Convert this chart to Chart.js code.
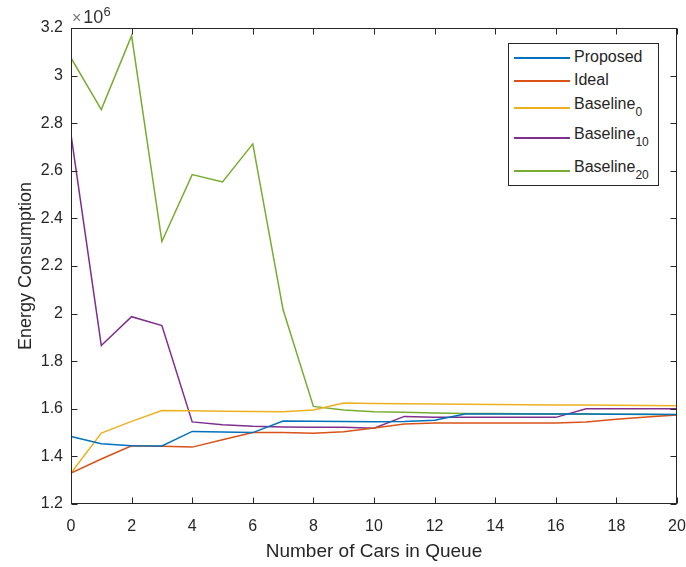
<!DOCTYPE html>
<html>
<head>
<meta charset="utf-8">
<script src="https://cdn.jsdelivr.net/npm/chart.js@4/dist/chart.umd.min.js"></script>
<style>
  body { margin: 0; background: #fff; font-family: "Liberation Sans", Arial, sans-serif; color: #262626; }
  #wrap { position: relative; width: 686px; height: 567px; }
  #expo { position: absolute; left: 72px; top: 8px; font-size: 18px; line-height: 18px; color: #333; white-space: nowrap; }
  #expo .times { font-size: 16px; color: #777; margin-right: 2px; }
  #expo sup { font-size: 13px; vertical-align: 7px; line-height: 0; }
  #legend { position: absolute; left: 508px; top: 43px; width: 151px; height: 143px; border: 1px solid #262626; background: #fff; box-sizing: border-box; }
  .row { position: absolute; left: 0; width: 100%; height: 0; }
  .row .ln { position: absolute; left: 5px; width: 56px; height: 1.5px; top: -0.75px; }
  .row .tx { position: absolute; left: 65px; top: -10px; font-size: 16px; line-height: 18px; white-space: nowrap; color: #262626; }
  .row .tx sub { font-size: 12px; vertical-align: -7px; line-height: 0; }
</style>
</head>
<body>
<div id="wrap">
  <canvas id="chart" width="686" height="567"></canvas>
  <div id="expo"><span class="times">&times;</span>10<sup>6</sup></div>
  <div id="legend"></div>
</div>
<script>
// number of cars waiting in the queue
const xValues = [0, 1, 2, 3, 4, 5, 6, 7, 8, 9, 10, 11, 12, 13, 14, 15, 16, 17, 18, 19, 20];

// energy consumption, in units of 10^6
const proposed   = [1.484, 1.453, 1.445, 1.444, 1.505, 1.503, 1.500, 1.549, 1.548, 1.547, 1.546, 1.547, 1.552, 1.578, 1.578, 1.578, 1.578, 1.578, 1.577, 1.577, 1.576];
const ideal      = [1.330, 1.389, 1.445, 1.443, 1.439, 1.470, 1.500, 1.500, 1.497, 1.504, 1.519, 1.536, 1.540, 1.540, 1.540, 1.540, 1.540, 1.545, 1.556, 1.566, 1.574];
const baseline0  = [1.330, 1.498, 1.547, 1.593, 1.592, 1.590, 1.589, 1.588, 1.595, 1.624, 1.622, 1.621, 1.620, 1.619, 1.618, 1.617, 1.616, 1.616, 1.615, 1.614, 1.613];
const baseline10 = [2.752, 1.866, 1.987, 1.950, 1.545, 1.533, 1.527, 1.524, 1.522, 1.522, 1.518, 1.568, 1.565, 1.564, 1.564, 1.564, 1.564, 1.600, 1.600, 1.600, 1.600];
const baseline20 = [3.074, 2.857, 3.168, 2.303, 2.584, 2.553, 2.713, 2.016, 1.610, 1.595, 1.588, 1.585, 1.582, 1.580, 1.580, 1.579, 1.578, 1.578, 1.577, 1.576, 1.575];

const seriesNames = ['Proposed', 'Ideal', 'Baseline', 'Baseline', 'Baseline'];
const seriesSubs  = ['', '', '0', '10', '20'];

const xTickLabels = ['0', '2', '4', '6', '8', '10', '12', '14', '16', '18', '20'];
const yTickLabels = ['1.2', '1.4', '1.6', '1.8', '2', '2.2', '2.4', '2.6', '2.8', '3', '3.2'];

// matlab default line colours
const colors = ['#0072BD', '#D95319', '#EDB120', '#7E2F8E', '#77AC30'];
const allSeries = [proposed, ideal, baseline0, baseline10, baseline20];

const axisColor = '#262626';
const tickFont = { family: '"Liberation Sans", Arial, sans-serif', size: 16 };

// draws the closed axes box with inward ticks on all sides (matlab look)
const boxPlugin = {
    id: 'box',
    afterDraw: function (chart) {
        const ctx = chart.ctx;
        const a = chart.chartArea;
        const xs = chart.scales.x, ys = chart.scales.y;
        const L = Math.round(a.left) + 0.5, R = Math.round(a.right) - 0.5;
        const T = Math.round(a.top) + 0.5, B = Math.round(a.bottom) - 0.5;
        const len = 6;
        ctx.save();
        ctx.strokeStyle = axisColor;
        ctx.lineWidth = 1;
        ctx.strokeRect(L, T, R - L, B - T);
        ctx.beginPath();
        xs.ticks.forEach(t => {
            const px = Math.round(xs.getPixelForValue(t.value)) + 0.5;
            ctx.moveTo(px, B); ctx.lineTo(px, B - len);
            ctx.moveTo(px, T); ctx.lineTo(px, T + len);
        });
        ys.ticks.forEach(t => {
            const py = Math.round(ys.getPixelForValue(t.value)) + 0.5;
            ctx.moveTo(L, py); ctx.lineTo(L + len, py);
            ctx.moveTo(R, py); ctx.lineTo(R - len, py);
        });
        ctx.stroke();
        ctx.restore();
    }
};

const datasets = allSeries.map((vals, i) => ({
    label: seriesNames[i] + seriesSubs[i],
    data: vals.map((v, j) => ({ x: xValues[j], y: v })),
    borderColor: colors[i],
    backgroundColor: colors[i],
    borderWidth: 1.5,
    pointRadius: 0,
    fill: false,
    tension: 0
}));

new Chart(document.getElementById('chart'), {
    type: 'line',
    data: { datasets: datasets },
    plugins: [boxPlugin],
    options: {
        responsive: false,
        animation: false,
        devicePixelRatio: 1,
        layout: { padding: { top: 28, right: 9, left: 0, bottom: 0 } },
        plugins: { legend: { display: false }, tooltip: { enabled: false } },
        scales: {
            x: {
                type: 'linear', min: 0, max: 20,
                grid: { display: false, drawTicks: false },
                border: { display: false },
                ticks: {
                    stepSize: 2, color: axisColor, font: tickFont, padding: 13, maxRotation: 0,
                    callback: (v, i) => xTickLabels[i]
                },
                title: {
                    display: true, text: 'Number of Cars in Queue', color: axisColor,
                    font: { family: tickFont.family, size: 19 }, padding: { top: 0, bottom: 4 }
                },
                afterFit: function (s) {
                    s.height = 63;
                    // keep the edge labels from shrinking the plot area
                    s.paddingLeft = 0;
                    s.paddingRight = 0;
                }
            },
            y: {
                type: 'linear', min: 1.2, max: 3.2,
                grid: { display: false, drawTicks: false },
                border: { display: false },
                ticks: {
                    stepSize: 0.2, color: axisColor, font: tickFont, padding: 8,
                    callback: (v, i) => yTickLabels[i]
                },
                title: {
                    display: true, text: 'Energy Consumption', color: axisColor,
                    font: { family: tickFont.family, size: 18 }, padding: { top: 15, bottom: 0 }
                },
                afterFit: function (s) {
                    s.width = 71;
                    s.paddingTop = 0;
                    s.paddingBottom = 0;
                }
            }
        }
    }
});

// legend with subscripts, built from the series names
const rowCenters = [14, 37, 64, 94, 127];
const legend = document.getElementById('legend');
seriesNames.forEach((name, i) => {
    const row = document.createElement('div');
    row.className = 'row';
    row.style.top = rowCenters[i] + 'px';
    const ln = document.createElement('div');
    ln.className = 'ln';
    ln.style.background = colors[i];
    const tx = document.createElement('div');
    tx.className = 'tx';
    tx.textContent = name;
    if (seriesSubs[i]) {
        tx.style.top = '-13px';
        const sub = document.createElement('sub');
        sub.textContent = seriesSubs[i];
        tx.appendChild(sub);
    }
    row.appendChild(ln);
    row.appendChild(tx);
    legend.appendChild(row);
});
</script>
</body>
</html>
